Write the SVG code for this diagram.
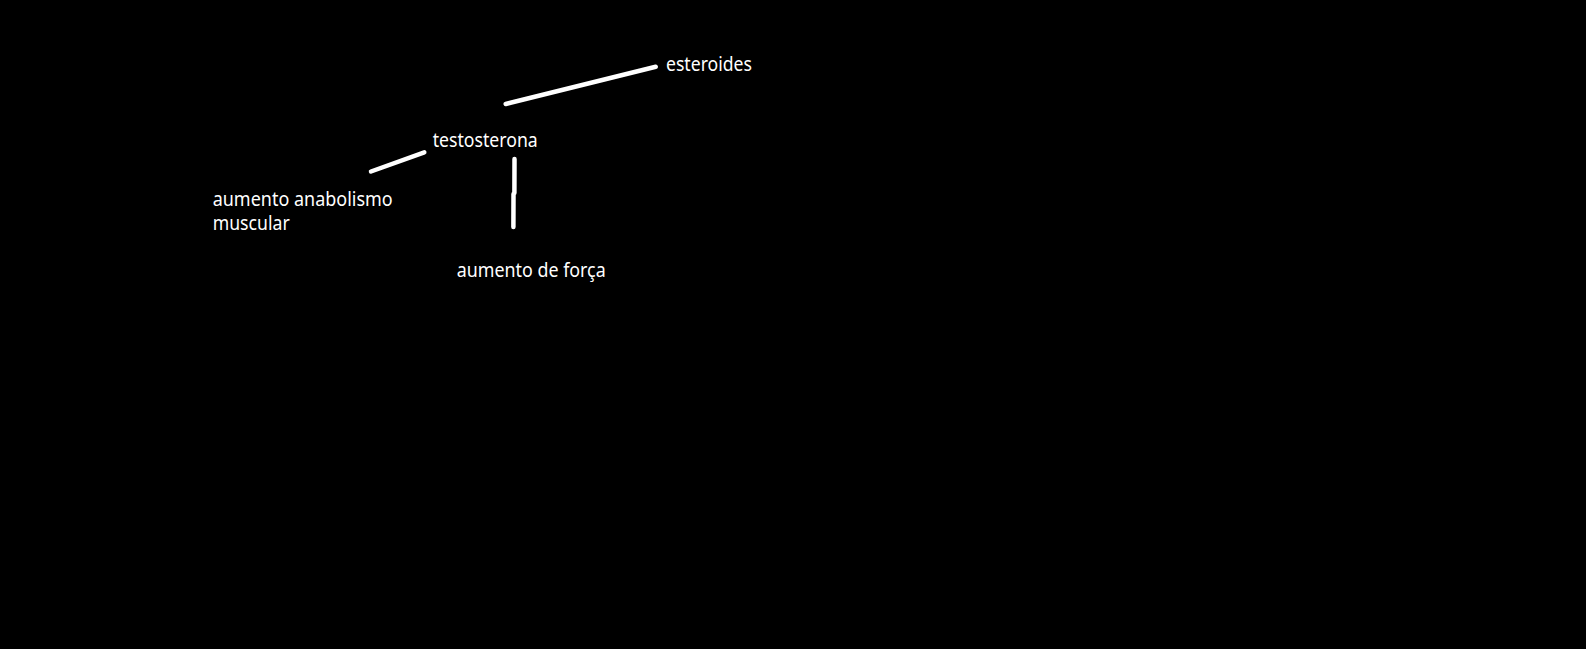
<svg xmlns="http://www.w3.org/2000/svg" width="1586" height="649" viewBox="0 0 1586 649">
<style>
.lbl{font-family:"Noto Sans","Open Sans","Liberation Sans",sans-serif;font-size:19px;fill:#ffffff}
.con{stroke:#ffffff;stroke-width:4.5;stroke-linecap:round;stroke-linejoin:round;fill:none}
</style>
<rect x="0" y="0" width="1586" height="649" fill="#000000"/>
<g id="connectors">
<line class="con" x1="505.7" y1="104" x2="655.7" y2="66.7"/>
<line class="con" x1="371" y1="171.5" x2="424.3" y2="152.3"/>
<path class="con" d="M514.5 159 L514.4 193 M513.5 194 L513.4 227"/>
</g>
<g id="esteroides"><text class="lbl" x="666" y="70.5" textLength="86" lengthAdjust="spacingAndGlyphs">esteroides</text></g>
<g id="testosterona"><text class="lbl" x="432.7" y="146.5" textLength="105" lengthAdjust="spacingAndGlyphs">testosterona</text></g>
<g id="anabolismo">
<text class="lbl" x="212.7" y="205.5" textLength="180" lengthAdjust="spacingAndGlyphs">aumento anabolismo</text>
<text class="lbl" x="212.7" y="229.8" textLength="77" lengthAdjust="spacingAndGlyphs">muscular</text>
</g>
<g id="forca"><text class="lbl" x="456.7" y="276.5" textLength="149" lengthAdjust="spacingAndGlyphs">aumento de força</text></g>
</svg>
